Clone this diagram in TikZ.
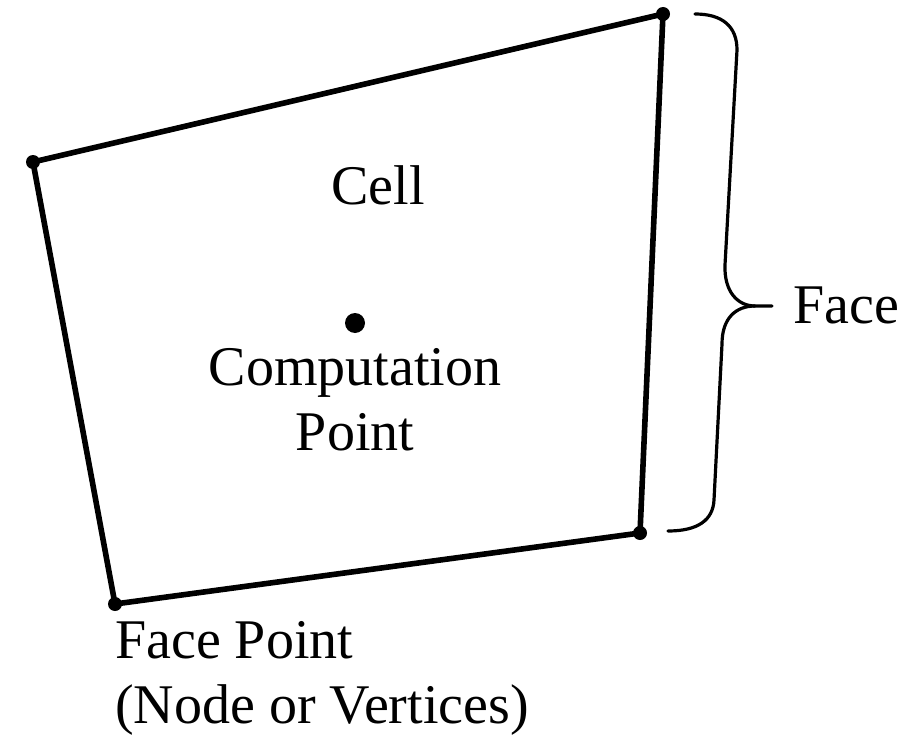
\documentclass[tikz,border=0pt]{standalone}
\usepackage{fontspec}
\setmainfont{Liberation Serif}
\usetikzlibrary{calc}
\tikzstyle{vertex} = [circle, fill=black, inner sep=0pt, minimum size=10.5pt]
\tikzstyle{centre} = [circle, fill=black, inner sep=0pt, minimum size=15pt]
\tikzstyle{caption} = [inner sep=0pt, font=\fontsize{42}{49}\selectfont, align=center]
\tikzstyle{edge} = [draw, line width=4.2pt, line join=round]
\tikzstyle{bracket} = [draw, line width=2.4pt, line cap=round]

\begin{document}
\begin{tikzpicture}[x=0.75pt,y=-0.75pt]
    \useasboundingbox (0,0) rectangle (918,735);
    % Place nodes
    \coordinate (a) at (33,162);
    \coordinate (b) at (663,14);
    \coordinate (c) at (640,533);
    \coordinate (d) at (115,604);
    \node[centre] (cp) at (355,323) {};
    \node[caption, anchor=base] (cell) at (378,204) {Cell};
    \node[caption, anchor=north] (comp) at (355,348) {Computation\\Point};
    \node[caption, anchor=base west] (face) at (793,323) {Face};
    \node[caption, anchor=north west, align=left] (fp) at (115,621) {Face Point\\(Node or Vertices)};
    % Draw edges
    \path [edge] (a) -- (b) -- (c) -- (d) -- cycle;
    \foreach \v in {a,b,c,d}
        \node[vertex] at (\v) {};
    % Brace
    \coordinate (top) at (695,14);
    \coordinate (bot) at (668,531);
    \coordinate (tip) at (772,306);
    \path [bracket] (top) .. controls (722,14) and (737,26) .. (737,50)
        -- (725,265) .. controls (724,292) and (738,306) .. (755,306) -- (tip);
    \path [bracket] (755,306) .. controls (736,306) and (722,318) .. (722,344)
        -- (714,500) .. controls (713,520) and (698,531) .. (bot);
\end{tikzpicture}
\end{document}
